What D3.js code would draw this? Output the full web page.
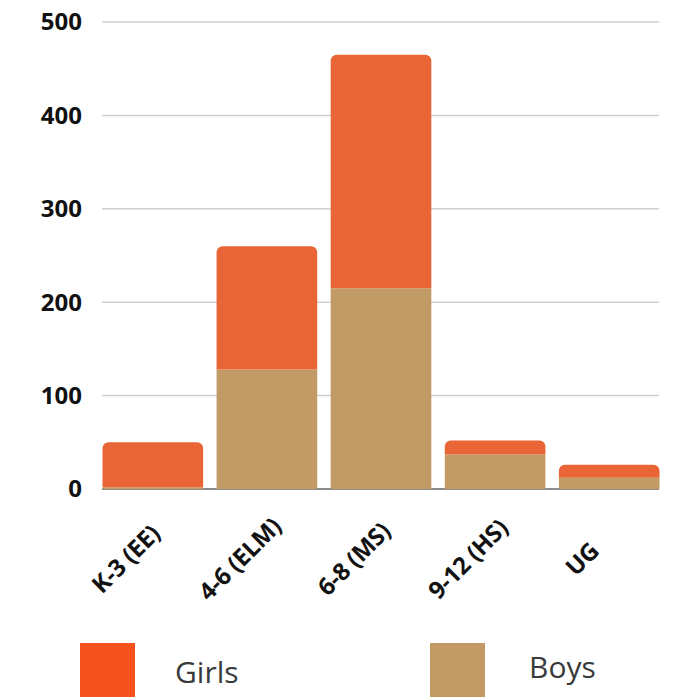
<!DOCTYPE html>
<html>
<head>
<meta charset="utf-8">
<script src="https://cdn.jsdelivr.net/npm/d3@7"></script>
<style>
  html, body { margin: 0; padding: 0; background: #fff; }
  svg { display: block; font-family: 'Open Sans', sans-serif; }
</style>
</head>
<body>
<div id="container"></div>
<script>
const grades = ['K-3 (EE)', '4-6 (ELM)', '6-8 (MS)', '9-12 (HS)', 'UG'];
const boys = [2, 128, 215, 37, 12];
const girls = [48, 132, 250, 15, 14];
const yTicks = [0, 100, 200, 300, 400, 500];
const seriesNames = ['Boys', 'Girls'];

const width = 673;
const height = 697;
const colors = {Boys: '#c29a66', Girls: '#ea6535'};
const legendColors = {Girls: '#f5521e', Boys: '#c29a66'};

const svg = d3.select('#container').append('svg')
  .attr('width', width)
  .attr('height', height);

const rows = grades.map((g, i) => ({grade: g, Boys: boys[i], Girls: girls[i]}));

const x = d3.scaleBand()
  .domain(grades)
  .range([102.5, 659.5])
  .paddingInner(0.118)
  .paddingOuter(0);

const y = d3.scaleLinear()
  .domain([0, 500])
  .range([489, 22]);

// gridlines
svg.append('g')
  .selectAll('line')
  .data(yTicks.filter(t => t > 0))
  .enter()
  .append('line')
  .attr('x1', 102)
  .attr('x2', 659)
  .attr('y1', d => y(d))
  .attr('y2', d => y(d))
  .style('stroke', '#cfcfcf')
  .style('stroke-width', 1.5);

// y tick labels
svg.append('g')
  .selectAll('text')
  .data(yTicks)
  .enter()
  .append('text')
  .attr('x', 82)
  .attr('y', d => y(d))
  .attr('dy', '0.35em')
  .attr('text-anchor', 'end')
  .style('font-size', '24px')
  .style('font-weight', 'bold')
  .style('fill', '#111')
  .text(d => d);

// baseline
svg.append('line')
  .attr('x1', 102)
  .attr('x2', 659)
  .attr('y1', y(0))
  .attr('y2', y(0))
  .style('stroke', '#666')
  .style('stroke-width', 1.5);

const stacked = d3.stack().keys(seriesNames)(rows);

// top segment gets rounded top corners
function barPath(x0, w, yTop, yBot, r) {
  const p = d3.path();
  p.moveTo(x0, yBot);
  p.lineTo(x0, yTop + r);
  p.arcTo(x0, yTop, x0 + r, yTop, r);
  p.lineTo(x0 + w - r, yTop);
  p.arcTo(x0 + w, yTop, x0 + w, yTop + r, r);
  p.lineTo(x0 + w, yBot);
  p.closePath();
  return p.toString();
}

svg.append('g')
  .selectAll('g')
  .data(stacked)
  .enter()
  .append('g')
  .attr('fill', s => colors[s.key])
  .selectAll('path')
  .data(s => s.map(d => ({d, top: s.key === 'Girls'})))
  .enter()
  .append('path')
  .attr('d', o => barPath(x(o.d.data.grade), x.bandwidth(), y(o.d[1]), y(o.d[0]), o.top ? 6 : 0));

// x labels, rotated
svg.append('g')
  .selectAll('text')
  .data(grades)
  .enter()
  .append('text')
  .attr('transform', g => `translate(${x(g) + x.bandwidth() / 2 - 27},559) rotate(-45)`)
  .attr('text-anchor', 'middle')
  .attr('dy', '0.35em')
  .style('font-size', '24px')
  .style('font-weight', 'bold')
  .style('letter-spacing', '-0.3px')
  .style('fill', '#111')
  .text(g => g);

// legend
const legendItems = [
  {name: 'Girls', sx: 80, tx: 175, ty: 683},
  {name: 'Boys', sx: 430, tx: 529, ty: 678}
];

const legend = svg.append('g')
  .selectAll('g')
  .data(legendItems)
  .enter()
  .append('g');

legend.append('rect')
  .attr('x', d => d.sx)
  .attr('y', 643)
  .attr('width', 55)
  .attr('height', 60)
  .attr('fill', d => legendColors[d.name]);

legend.append('text')
  .attr('x', d => d.tx)
  .attr('y', d => d.ty)
  .style('font-size', '30px')
  .style('fill', '#3a3a3a')
  .text(d => d.name);
</script>
</body>
</html>
